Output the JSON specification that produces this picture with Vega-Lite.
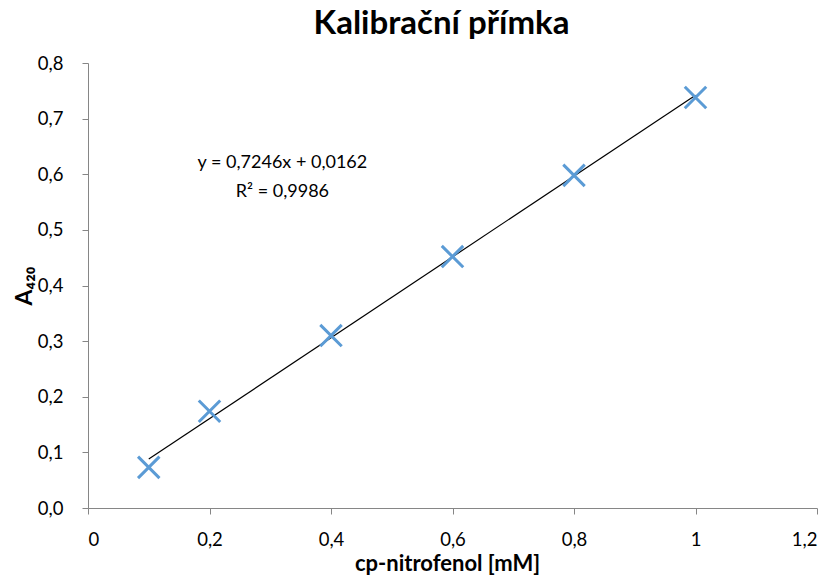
{
  "$schema": "https://vega.github.io/schema/vega-lite/v6.json",
  "autosize": {"type": "none"},
  "width": 729,
  "height": 445,
  "padding": {"left": 88, "top": 63, "right": 17, "bottom": 75},
  "background": "white",
  "title": {
    "text": "Kalibrační přímka",
    "font": "Lato",
    "fontSize": 33,
    "fontWeight": "bold",
    "color": "#000000",
    "anchor": "middle",
    "dx": -11,
    "offset": 13
  },
  "data": {
    "values": [
      {"c": 0.1, "A": 0.073},
      {"c": 0.2, "A": 0.174},
      {"c": 0.4, "A": 0.310},
      {"c": 0.6, "A": 0.452},
      {"c": 0.8, "A": 0.598},
      {"c": 1.0, "A": 0.738}
    ]
  },
  "config": {
    "view": {"stroke": null},
    "axis": {
      "grid": false,
      "domainColor": "#868686",
      "tickColor": "#868686",
      "tickSize": 6,
      "labelFont": "Lato",
      "labelFontSize": 18.5,
      "labelColor": "#000000",
      "titleFont": "Lato",
      "titleColor": "#000000",
      "titleFontWeight": "bold"
    }
  },
  "layer": [
    {
      "transform": [{"regression": "A", "on": "c", "extent": [0.1, 1.0]}],
      "mark": {"type": "line", "color": "#000000", "strokeWidth": 1.2},
      "encoding": {
        "x": {"field": "c", "type": "quantitative"},
        "y": {"field": "A", "type": "quantitative"}
      }
    },
    {
      "mark": {
        "type": "point",
        "shape": "M-1,-1L1,1M-1,1L1,-1",
        "filled": false,
        "stroke": "#5B9BD5",
        "strokeWidth": 3,
        "size": 460,
        "opacity": 1
      },
      "encoding": {
        "x": {
          "field": "c",
          "type": "quantitative",
          "scale": {"domain": [0, 1.2], "nice": false, "zero": true},
          "axis": {
            "values": [0, 0.2, 0.4, 0.6, 0.8, 1.0, 1.2],
            "labelExpr": "replace(format(datum.value, '.1~f'), '.', ',')",
            "labelPadding": 16,
            "title": "cp-nitrofenol [mM]",
            "titleFontSize": 22,
            "titlePadding": 5,
            "titleX": 359
          }
        },
        "y": {
          "field": "A",
          "type": "quantitative",
          "scale": {"domain": [0, 0.8], "nice": false},
          "axis": {
            "values": [0, 0.1, 0.2, 0.3, 0.4, 0.5, 0.6, 0.7, 0.8],
            "labelExpr": "replace(format(datum.value, '.1f'), '.', ',')",
            "labelPadding": 19,
            "title": "A₄₂₀",
            "titleFontSize": 23,
            "titlePadding": 1
          }
        }
      }
    },
    {
      "data": {"values": [{"x": 0.32, "y": 0.62, "t": ["y = 0,7246x + 0,0162", "R² = 0,9986"]}]},
      "mark": {"type": "text", "font": "Lato", "fontSize": 18, "lineHeight": 29, "baseline": "middle", "align": "center", "color": "#000000"},
      "encoding": {
        "x": {"field": "x", "type": "quantitative"},
        "y": {"field": "y", "type": "quantitative"},
        "text": {"field": "t"}
      }
    }
  ]
}
